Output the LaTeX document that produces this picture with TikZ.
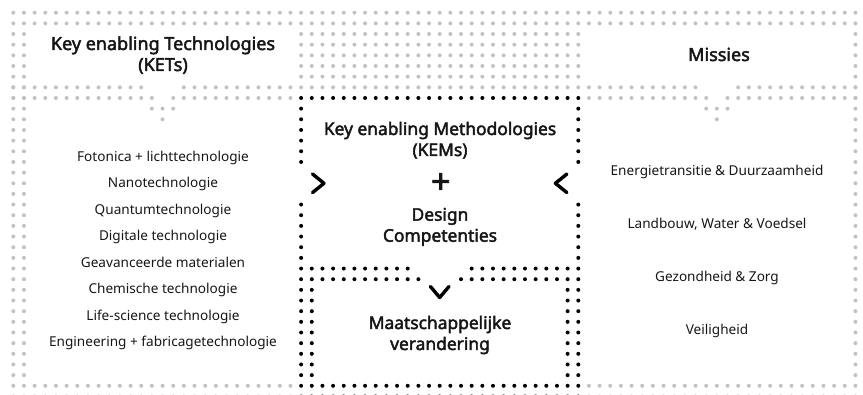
\documentclass[tikz,border=0pt]{standalone}
\usepackage{fontspec}
\setmainfont{Noto Sans}
\newfontfamily\titlefont{Noto Sans}[FakeBold=2.4]
\definecolor{gdot}{HTML}{C2C2C2}
\definecolor{ink}{HTML}{161616}
\newcommand{\dotrow}[4]{\foreach \i in {#3,...,#4}{\fill[#1] ({13.3+\i*10.66},{12.7+#2*10.66}) circle (2.0);}}
\newcommand{\dotcol}[4]{\foreach \j in {#3,...,#4}{\fill[#1] ({13.3+#2*10.66},{12.7+\j*10.66}) circle (2.0);}}
\tikzset{
  title/.style={anchor=base, inner sep=0pt, text=ink, font=\titlefont\fontsize{18}{22}\selectfont},
  midtitle/.style={anchor=base, inner sep=0pt, text=ink, font=\titlefont\fontsize{17.4}{22}\selectfont},
  item/.style={anchor=base, inner sep=0pt, text=ink, font=\fontsize{13.6}{16}\selectfont},
  chev/.style={draw=black, line width=3.4pt, line cap=round, line join=round}
}
\begin{document}
\begin{tikzpicture}[x=1pt,y=-1pt]
\useasboundingbox (0,0) rectangle (863,395);
% grey grid
\dotrow{gdot}{0}{0}{80}
\dotrow{gdot}{1}{0}{80}
\foreach \r in {2,...,6}{\dotrow{gdot}{\r}{27}{53}}
\dotcol{gdot}{0}{2}{34}
\dotcol{gdot}{1}{2}{34}
\dotcol{gdot}{79}{2}{34}
\dotcol{gdot}{80}{2}{34}
\dotrow{gdot}{7}{0}{12}
\dotrow{gdot}{7}{16}{64}
\dotrow{gdot}{7}{68}{80}
\dotrow{gdot}{8}{0}{13}
\dotrow{gdot}{8}{15}{26}
\dotrow{gdot}{8}{54}{65}
\dotrow{gdot}{8}{67}{80}
\dotrow{gdot}{9}{13}{15}
\dotrow{gdot}{9}{65}{67}
\fill[gdot] ({13.3+14*10.66},{12.7+10*10.66}) circle (2.0);
\fill[gdot] ({13.3+66*10.66},{12.7+10*10.66}) circle (2.0);
\dotrow{gdot}{35}{0}{26}
\dotrow{gdot}{35}{54}{80}
\dotrow{gdot}{36}{0}{26}
\dotrow{gdot}{36}{54}{80}
% black boxes
\dotrow{black}{8}{27}{53}
\dotcol{black}{27}{9}{14}
\dotcol{black}{53}{9}{14}
\dotcol{black}{27}{18}{23}
\dotcol{black}{53}{18}{23}
\dotrow{black}{24}{27}{37}
\dotrow{black}{24}{43}{53}
\dotrow{black}{25}{27}{38}
\dotrow{black}{25}{42}{53}
\dotcol{black}{27}{26}{34}
\dotcol{black}{28}{26}{34}
\dotcol{black}{52}{26}{34}
\dotcol{black}{53}{26}{34}
\dotrow{black}{35}{27}{53}
\dotrow{black}{36}{27}{53}
% chevrons
\draw[chev] (312.5,174) -- (324,183.3) -- (312.5,192.6);
\draw[chev] (566.9,174) -- (555.4,183.3) -- (566.9,192.6);
\draw[chev] (430.4,286.5) -- (439.7,297.5) -- (449,286.5);
% headers
\node[title] (kets1) at (163,50) {Key enabling Technologies};
\node[title] (kets2) at (163,71) {(KETs)};
\node[title] (missies) at (719,61) {Missies};
% middle
\node[midtitle] (kem1) at (440,135) {Key enabling Methodologies};
\node[midtitle] (kem2) at (440,156) {(KEMs)};
\node[anchor=center, inner sep=0pt, text=ink, font=\titlefont\fontsize{34}{34}\selectfont] (plus) at (440.7,183.3) {+};
\node[midtitle] (design) at (440,220.7) {Design};
\node[midtitle] (comp) at (440,241.7) {Competenties};
\node[midtitle] (maat) at (440,329) {Maatschappelijke};
\node[midtitle] (ver) at (440,350) {verandering};
% KET list
\node[item] (k1) at (163,161.5) {Fotonica + lichttechnologie};
\node[item] (k2) at (163,187.9) {Nanotechnologie};
\node[item] (k3) at (163,214.4) {Quantumtechnologie};
\node[item] (k4) at (163,240.8) {Digitale technologie};
\node[item] (k5) at (163,267.2) {Geavanceerde materialen};
\node[item] (k6) at (163,293.7) {Chemische technologie};
\node[item] (k7) at (163,320.1) {Life-science technologie};
\node[item] (k8) at (163,346.5) {Engineering + fabricagetechnologie};
% Missies list
\node[item] (m1) at (717,175.5) {Energietransitie \& Duurzaamheid};
\node[item] (m2) at (717,228.5) {Landbouw, Water \& Voedsel};
\node[item] (m3) at (717,281.5) {Gezondheid \& Zorg};
\node[item] (m4) at (717,334.5) {Veiligheid};
\end{tikzpicture}
\end{document}
